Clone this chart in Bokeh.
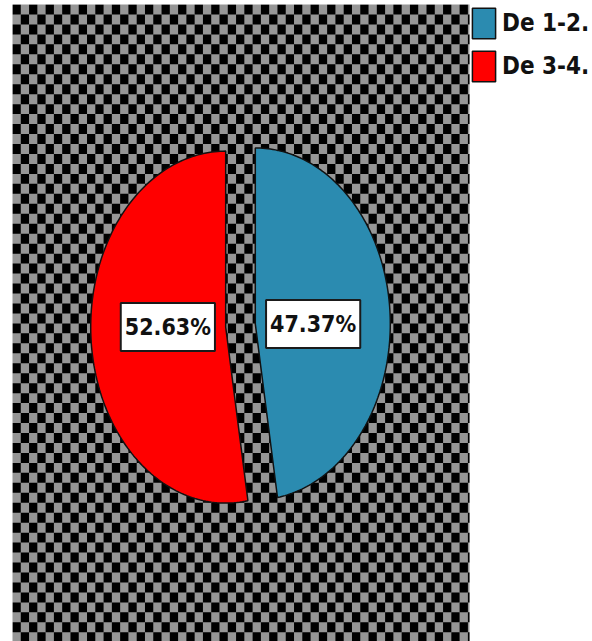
import numpy as np
from bokeh.plotting import figure
from bokeh.models import Range1d, ColumnDataSource, Legend, LegendItem
from bokeh.core.properties import value
from bokeh.embed import file_html
from bokeh.resources import INLINE

# ---- data ----
categories = ["De 1-2.", "De 3-4."]
percentages = [47.37, 52.63]
slice_colors = ["#2b8bb0", "#ff0000"]

# ---- layout (pixel coordinates of the picture) ----
X0, X1 = 12, 469          # frame left/right
Y0, Y1 = 4, 641           # frame top/bottom
CX, CY = 240, 325         # pie centre
RX, RY = 135, 176         # pie radii (stretched ellipse)
EXPLODE = 0.11
LABEL_POS = 0.43
FONT = "DejaVu Sans Condensed"

p = figure(frame_width=X1 - X0, frame_height=Y1 - Y0,
           output_backend="svg", toolbar_location=None,
           x_range=Range1d(X0, X1), y_range=Range1d(Y1, Y0),
           x_axis_type=None, y_axis_type=None,
           min_border_left=X0, min_border_right=0, min_border_top=Y0, min_border_bottom=0,
           background_fill_color="#969696", border_fill_color="white",
           outline_line_color=None)

# checkered background
CW, CH = 8.28, 9.965
cols = np.arange(int((X1 - X0) / CW) + 2)
rows = np.arange(int((Y1 - Y0) / CH) + 2)
cc, rr = np.meshgrid(cols, rows)
mask = (cc + rr) % 2 == 0
left = X0 + cc[mask] * CW
top = Y0 + rr[mask] * CH
p.quad(left=left, right=left + CW, top=top, bottom=top + CH,
       fill_color="black", line_color=None)

# pie slices
fracs = np.array(percentages) / sum(percentages)
ends = np.cumsum(fracs) * 2 * np.pi
starts = ends - fracs * 2 * np.pi

items = []
lab_x, lab_y, lab_t = [], [], []
for cat, pct, s, e, col in zip(categories, percentages, starts, ends, slice_colors):
    mid = (s + e) / 2
    ox = CX + EXPLODE * RX * np.sin(mid)
    oy = CY - EXPLODE * RY * np.cos(mid)
    th = np.linspace(s, e, 160)
    xs = np.concatenate([[ox], ox + RX * np.sin(th)])
    ys = np.concatenate([[oy], oy - RY * np.cos(th)])
    r = p.patch(xs, ys, fill_color=col, line_color="#111111", line_width=1.5)
    items.append(LegendItem(label=cat, renderers=[r]))
    lab_x.append(ox + LABEL_POS * RX * np.sin(mid))
    lab_y.append(oy)
    lab_t.append(f"{pct:.2f}%")

src = ColumnDataSource(dict(x=lab_x, y=lab_y, text=lab_t))
p.text(x="x", y="y", text="text", source=src,
       text_font=value(FONT), text_font_style="bold", text_font_size="23px",
       text_color="#111111", text_align="center", text_baseline="middle",
       background_fill_color="white", border_line_color="#1a1a1a",
       border_line_width=2, padding=dict(left=4, right=4, top=11, bottom=11))

legend = Legend(items=items, location="top_left", orientation="vertical",
                glyph_width=29, glyph_height=38, label_standoff=4, spacing=5,
                padding=1, margin=0, border_line_color=None,
                background_fill_alpha=0,
                label_text_font=FONT, label_text_font_style="bold",
                label_text_font_size="24px", label_text_color="#111111")
p.add_layout(legend, "right")

open("out.html", "w").write(file_html(p, INLINE))
